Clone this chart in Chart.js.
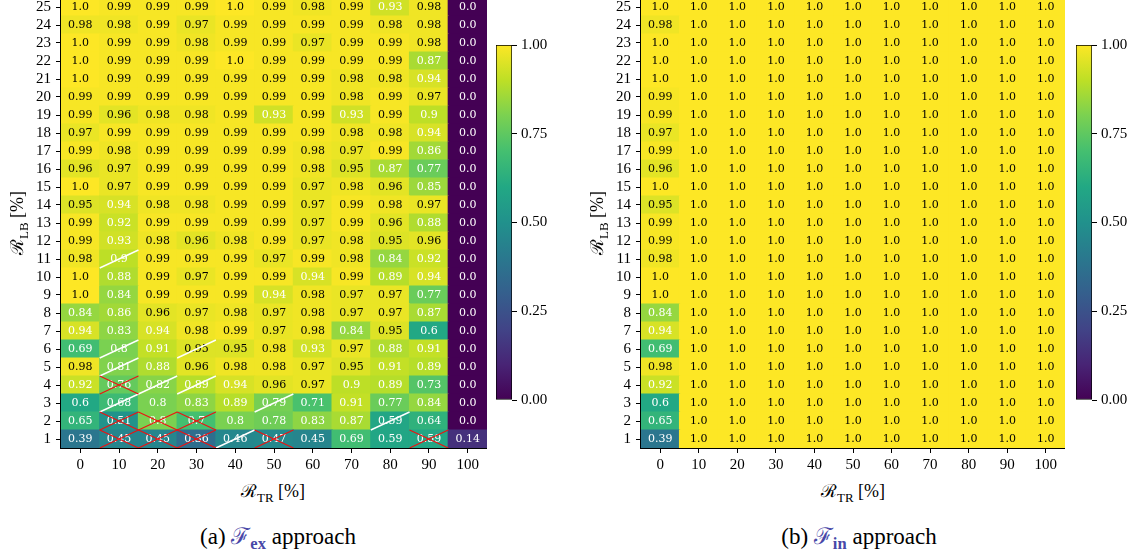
<!DOCTYPE html>
<html>
<head>
<meta charset="utf-8">
<script src="https://cdn.jsdelivr.net/npm/chart.js@4.4.0/dist/chart.umd.min.js"></script>
<style>
  body { margin: 0; background: #fff; }
  #page { position: relative; width: 1145px; height: 556px; overflow: hidden; font-family: "Liberation Serif", "DejaVu Serif", serif; color: #000; }
  canvas { position: absolute; }
  .lbl { position: absolute; white-space: nowrap; transform: translate(-50%, -50%); font-size: 18px; line-height: 1; }
  .ylbl { transform: translate(-50%, -50%) rotate(-90deg); }
  .cap { font-size: 23px; }
  .blue { color: #4848a8; }
  sub { font-size: 72%; vertical-align: -0.35em; line-height: 0; }
</style>
</head>
<body>
<div id="page">
  <canvas id="heatEx" width="487" height="480" style="left:0;top:-2px"></canvas>
  <canvas id="barEx" width="61" height="381" style="left:496px;top:32px"></canvas>
  <canvas id="heatIn" width="485" height="480" style="left:580px;top:-2px"></canvas>
  <canvas id="barIn" width="61" height="381" style="left:1076px;top:32px"></canvas>

  <div class="lbl" style="left:273px;top:491px">ℛ<sub>TR</sub> [%]</div>
  <div class="lbl ylbl" style="left:17px;top:223px">ℛ<sub>LB</sub> [%]</div>
  <div class="lbl" style="left:853px;top:491px">ℛ<sub>TR</sub> [%]</div>
  <div class="lbl ylbl" style="left:597px;top:223px">ℛ<sub>LB</sub> [%]</div>

  <div class="lbl cap" style="left:278px;top:536px">(a) <span class="blue">ℱ<sub><b>ex</b></sub></span> approach</div>
  <div class="lbl cap" style="left:859px;top:536px">(b) <span class="blue">ℱ<sub><b>in</b></sub></span> approach</div>
</div>

<script>
// axis categories
const trLabels = ['0', '10', '20', '30', '40', '50', '60', '70', '80', '90', '100'];
const lbLabels = [1, 2, 3, 4, 5, 6, 7, 8, 9, 10, 11, 12, 13, 14, 15, 16, 17, 18, 19, 20, 21, 22, 23, 24, 25];

// F_ex approach, one row per R_LB value, from 1 (bottom) to 25 (top)
const exValues = [
  [0.39, 0.45, 0.45, 0.36, 0.46, 0.47, 0.45, 0.69, 0.59, 0.59, 0.14],
  [0.65, 0.51, 0.8, 0.7, 0.8, 0.78, 0.83, 0.87, 0.59, 0.64, 0.0],
  [0.6, 0.68, 0.8, 0.83, 0.89, 0.79, 0.71, 0.91, 0.77, 0.84, 0.0],
  [0.92, 0.76, 0.82, 0.89, 0.94, 0.96, 0.97, 0.9, 0.89, 0.73, 0.0],
  [0.98, 0.81, 0.88, 0.96, 0.98, 0.98, 0.97, 0.95, 0.91, 0.89, 0.0],
  [0.69, 0.8, 0.91, 0.95, 0.95, 0.98, 0.93, 0.97, 0.88, 0.91, 0.0],
  [0.94, 0.83, 0.94, 0.98, 0.99, 0.97, 0.98, 0.84, 0.95, 0.6, 0.0],
  [0.84, 0.86, 0.96, 0.97, 0.98, 0.97, 0.98, 0.97, 0.97, 0.87, 0.0],
  [1.0, 0.84, 0.99, 0.99, 0.99, 0.94, 0.98, 0.97, 0.97, 0.77, 0.0],
  [1.0, 0.88, 0.99, 0.97, 0.99, 0.99, 0.94, 0.99, 0.89, 0.94, 0.0],
  [0.98, 0.9, 0.99, 0.99, 0.99, 0.97, 0.99, 0.98, 0.84, 0.92, 0.0],
  [0.99, 0.93, 0.98, 0.96, 0.98, 0.99, 0.97, 0.98, 0.95, 0.96, 0.0],
  [0.99, 0.92, 0.99, 0.99, 0.99, 0.99, 0.97, 0.99, 0.96, 0.88, 0.0],
  [0.95, 0.94, 0.98, 0.98, 0.99, 0.99, 0.97, 0.99, 0.98, 0.97, 0.0],
  [1.0, 0.97, 0.99, 0.99, 0.99, 0.99, 0.97, 0.98, 0.96, 0.85, 0.0],
  [0.96, 0.97, 0.99, 0.99, 0.99, 0.99, 0.98, 0.95, 0.87, 0.77, 0.0],
  [0.99, 0.98, 0.99, 0.99, 0.99, 0.99, 0.98, 0.97, 0.99, 0.86, 0.0],
  [0.97, 0.99, 0.99, 0.99, 0.99, 0.99, 0.99, 0.98, 0.98, 0.94, 0.0],
  [0.99, 0.96, 0.98, 0.98, 0.99, 0.93, 0.99, 0.93, 0.99, 0.9, 0.0],
  [0.99, 0.99, 0.99, 0.99, 0.99, 0.99, 0.99, 0.98, 0.99, 0.97, 0.0],
  [1.0, 0.99, 0.99, 0.99, 0.99, 0.99, 0.99, 0.98, 0.98, 0.94, 0.0],
  [1.0, 0.99, 0.99, 0.99, 1.0, 0.99, 0.99, 0.99, 0.99, 0.87, 0.0],
  [1.0, 0.99, 0.99, 0.98, 0.99, 0.99, 0.97, 0.99, 0.99, 0.98, 0.0],
  [0.98, 0.98, 0.99, 0.97, 0.99, 0.99, 0.99, 0.99, 0.98, 0.98, 0.0],
  [1.0, 0.99, 0.99, 0.99, 1.0, 0.99, 0.98, 0.99, 0.93, 0.98, 0.0]
];

// F_in approach, same layout
const inValues = [
  [0.39, 1.0, 1.0, 1.0, 1.0, 1.0, 1.0, 1.0, 1.0, 1.0, 1.0],
  [0.65, 1.0, 1.0, 1.0, 1.0, 1.0, 1.0, 1.0, 1.0, 1.0, 1.0],
  [0.6, 1.0, 1.0, 1.0, 1.0, 1.0, 1.0, 1.0, 1.0, 1.0, 1.0],
  [0.92, 1.0, 1.0, 1.0, 1.0, 1.0, 1.0, 1.0, 1.0, 1.0, 1.0],
  [0.98, 1.0, 1.0, 1.0, 1.0, 1.0, 1.0, 1.0, 1.0, 1.0, 1.0],
  [0.69, 1.0, 1.0, 1.0, 1.0, 1.0, 1.0, 1.0, 1.0, 1.0, 1.0],
  [0.94, 1.0, 1.0, 1.0, 1.0, 1.0, 1.0, 1.0, 1.0, 1.0, 1.0],
  [0.84, 1.0, 1.0, 1.0, 1.0, 1.0, 1.0, 1.0, 1.0, 1.0, 1.0],
  [1.0, 1.0, 1.0, 1.0, 1.0, 1.0, 1.0, 1.0, 1.0, 1.0, 1.0],
  [1.0, 1.0, 1.0, 1.0, 1.0, 1.0, 1.0, 1.0, 1.0, 1.0, 1.0],
  [0.98, 1.0, 1.0, 1.0, 1.0, 1.0, 1.0, 1.0, 1.0, 1.0, 1.0],
  [0.99, 1.0, 1.0, 1.0, 1.0, 1.0, 1.0, 1.0, 1.0, 1.0, 1.0],
  [0.99, 1.0, 1.0, 1.0, 1.0, 1.0, 1.0, 1.0, 1.0, 1.0, 1.0],
  [0.95, 1.0, 1.0, 1.0, 1.0, 1.0, 1.0, 1.0, 1.0, 1.0, 1.0],
  [1.0, 1.0, 1.0, 1.0, 1.0, 1.0, 1.0, 1.0, 1.0, 1.0, 1.0],
  [0.96, 1.0, 1.0, 1.0, 1.0, 1.0, 1.0, 1.0, 1.0, 1.0, 1.0],
  [0.99, 1.0, 1.0, 1.0, 1.0, 1.0, 1.0, 1.0, 1.0, 1.0, 1.0],
  [0.97, 1.0, 1.0, 1.0, 1.0, 1.0, 1.0, 1.0, 1.0, 1.0, 1.0],
  [0.99, 1.0, 1.0, 1.0, 1.0, 1.0, 1.0, 1.0, 1.0, 1.0, 1.0],
  [0.99, 1.0, 1.0, 1.0, 1.0, 1.0, 1.0, 1.0, 1.0, 1.0, 1.0],
  [1.0, 1.0, 1.0, 1.0, 1.0, 1.0, 1.0, 1.0, 1.0, 1.0, 1.0],
  [1.0, 1.0, 1.0, 1.0, 1.0, 1.0, 1.0, 1.0, 1.0, 1.0, 1.0],
  [1.0, 1.0, 1.0, 1.0, 1.0, 1.0, 1.0, 1.0, 1.0, 1.0, 1.0],
  [0.98, 1.0, 1.0, 1.0, 1.0, 1.0, 1.0, 1.0, 1.0, 1.0, 1.0],
  [1.0, 1.0, 1.0, 1.0, 1.0, 1.0, 1.0, 1.0, 1.0, 1.0, 1.0]
];

// marked cells in the F_ex map, as [column index, R_LB]
const exSlashCells = [[1, 11], [1, 6], [3, 6], [1, 5], [2, 4], [3, 4], [1, 3], [5, 3], [8, 2], [4, 1]];
const exCrossCells = [[1, 4], [1, 2], [2, 2], [3, 2], [1, 1], [2, 1], [3, 1], [5, 1], [9, 1]];

// colour scale limits
const cbRange = [0, 1];

const viridisStops = ['#440154', '#482475', '#414487', '#355f8d', '#2a788e', '#21918c',
                      '#22a884', '#44bf70', '#7ad151', '#bddf26', '#fde725'];

function hexRgb(h) {
    return [parseInt(h.slice(1, 3), 16), parseInt(h.slice(3, 5), 16), parseInt(h.slice(5, 7), 16)];
}

function viridis(v) {
    const t = Math.min(1, Math.max(0, (v - cbRange[0]) / (cbRange[1] - cbRange[0])));
    const p = t * 10;
    const i = Math.min(9, Math.floor(p));
    const f = p - i;
    const a = hexRgb(viridisStops[i]);
    const b = hexRgb(viridisStops[i + 1]);
    const c = a.map((x, k) => Math.round(x + (b[k] - x) * f));
    return `rgb(${c[0]}, ${c[1]}, ${c[2]})`;
}

function fmt(v) {
    return Number.isInteger(v) ? v.toFixed(1) : String(v);
}

Chart.defaults.font.family = '"Liberation Serif", serif';
Chart.defaults.color = '#000';

// draws the numbers, the marks and the frame on top of the cells
const cellPlugin = {
    id: 'cells',
    afterDatasetsDraw(chart, args, opts) {
        const ctx = chart.ctx;
        ctx.save();
        ctx.font = '11px "DejaVu Serif", serif';
        ctx.textAlign = 'center';
        ctx.textBaseline = 'middle';
        chart.data.datasets.forEach((ds, r) => {
            chart.getDatasetMeta(r).data.forEach((el, c) => {
                const v = ds.cellValues[c];
                ctx.fillStyle = v < 0.95 ? '#fff' : '#000';
                ctx.fillText(fmt(v), el.x, (el.y + el.base) / 2 + 0.5);
            });
        });

        const cell = (c, row) => {
            const el = chart.getDatasetMeta(lbLabels.indexOf(row)).data[c];
            return { l: el.x - el.width / 2, r: el.x + el.width / 2, t: el.y, b: el.base };
        };
        ctx.lineWidth = 1.4;
        ctx.strokeStyle = '#fff';
        (opts.slash || []).forEach(([c, row]) => {
            const k = cell(c, row);
            ctx.beginPath();
            ctx.moveTo(k.l, k.b);
            ctx.lineTo(k.r, k.t);
            ctx.stroke();
        });
        ctx.strokeStyle = '#f01010';
        ctx.lineWidth = 1.1;
        (opts.cross || []).forEach(([c, row]) => {
            const k = cell(c, row);
            ctx.beginPath();
            ctx.moveTo(k.l, k.b);
            ctx.lineTo(k.r, k.t);
            ctx.moveTo(k.l, k.t);
            ctx.lineTo(k.r, k.b);
            ctx.stroke();
        });

        const a = chart.chartArea;
        ctx.strokeStyle = '#000';
        ctx.lineWidth = 1;
        ctx.strokeRect(Math.round(a.left) - 0.5, Math.round(a.top) + 0.5,
                       Math.round(a.right - a.left) + 1, Math.round(a.bottom - a.top));
        ctx.restore();
    }
};

function heatmap(id, values, marks) {
    const ctx = document.getElementById(id).getContext('2d');
    return new Chart(ctx, {
        type: 'bar',
        data: {
            labels: trLabels,
            datasets: values.map((row, r) => ({
                label: 'R_LB ' + lbLabels[r],
                data: row.map(() => 1),
                cellValues: row,
                backgroundColor: row.map(viridis),
                borderWidth: 0,
                barPercentage: 1,
                categoryPercentage: 1,
                inflateAmount: 0.6
            }))
        },
        options: {
            responsive: false,
            animation: false,
            devicePixelRatio: 1,
            layout: { padding: 0 },
            plugins: {
                legend: { display: false },
                tooltip: { enabled: false },
                cells: marks
            },
            scales: {
                x: {
                    stacked: true,
                    grid: { offset: false, drawOnChartArea: false, drawTicks: true, tickLength: 5, tickColor: '#000' },
                    border: { display: false },
                    ticks: { font: { size: 15 }, color: '#000', padding: 3, autoSkip: false, maxRotation: 0 },
                    afterFit: s => { s.height = 30; }
                },
                y: {
                    stacked: true,
                    min: 0,
                    max: lbLabels.length,
                    afterBuildTicks: s => { s.ticks = lbLabels.map((l, i) => ({ value: i + 0.5 })); },
                    grid: { drawOnChartArea: false, drawTicks: true, tickLength: 5, tickColor: '#000' },
                    border: { display: false },
                    ticks: { font: { size: 15 }, color: '#000', padding: 5, autoSkip: false,
                             callback: (v, i) => lbLabels[i] },
                    afterFit: s => { s.width = 61; s.paddingTop = 0; s.paddingBottom = 0; }
                }
            }
        },
        plugins: [cellPlugin]
    });
}

function colorbar(id) {
    const ctx = document.getElementById(id).getContext('2d');
    return new Chart(ctx, {
        type: 'bar',
        data: {
            labels: [''],
            datasets: [{
                data: [cbRange],
                backgroundColor: c => {
                    const area = c.chart.chartArea;
                    if (!area) return viridisStops[5];
                    const g = c.chart.ctx.createLinearGradient(0, area.bottom, 0, area.top);
                    viridisStops.forEach((s, k) => g.addColorStop(k / 10, s));
                    return g;
                },
                borderColor: '#000',
                borderWidth: 1,
                borderSkipped: false,
                barPercentage: 1,
                categoryPercentage: 1
            }]
        },
        options: {
            responsive: false,
            animation: false,
            devicePixelRatio: 1,
            layout: { padding: { top: 12, bottom: 12, left: 0, right: 0 } },
            plugins: { legend: { display: false }, tooltip: { enabled: false } },
            scales: {
                x: { display: false },
                y: {
                    position: 'right',
                    min: cbRange[0],
                    max: cbRange[1],
                    grid: { drawOnChartArea: false, drawTicks: true, tickLength: 5, tickColor: '#000' },
                    border: { display: false },
                    ticks: { stepSize: 0.25, font: { size: 15 }, color: '#000', padding: 4,
                             callback: v => v.toFixed(2) },
                    afterFit: s => { s.width = 45; }
                }
            }
        }
    });
}

heatmap('heatEx', exValues, { slash: exSlashCells, cross: exCrossCells });
colorbar('barEx');
heatmap('heatIn', inValues, {});
colorbar('barIn');
</script>
</body>
</html>
